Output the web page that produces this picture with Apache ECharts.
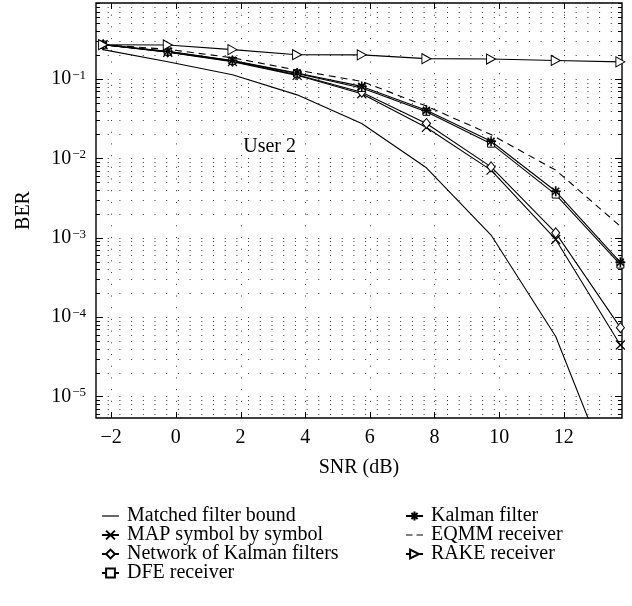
<!DOCTYPE html>
<html>
<head>
<meta charset="utf-8">
<script src="https://cdn.jsdelivr.net/npm/echarts@6/dist/echarts.min.js"></script>
<style>
  html, body { margin: 0; padding: 0; background: #fff; }
  #chart { width: 632px; height: 606px; }
</style>
</head>
<body>
<div id="chart"></div>
<script>
// SNR points (dB)
const snr = [-2.25, -0.25, 1.75, 3.75, 5.75, 7.75, 9.75, 11.75, 13.75];

// BER per receiver
const matchedBound = [0.234, 0.165, 0.113, 0.063, 0.0275, 0.0076, 0.00108, 0.000057, 0.0000005];
const mapSymbol = [0.27, 0.217, 0.165, 0.111, 0.065, 0.0245, 0.0071, 0.00095, 0.0000445];
const kalmanNetwork = [0.27, 0.219, 0.167, 0.113, 0.068, 0.0275, 0.0078, 0.00115, 0.0000735];
const dfe = [0.27, 0.221, 0.169, 0.117, 0.077, 0.0385, 0.0153, 0.00349, 0.000458];
const kalman = [0.27, 0.223, 0.171, 0.119, 0.0805, 0.0402, 0.0164, 0.00384, 0.00049];
const eqmm = [0.27, 0.236, 0.185, 0.129, 0.093, 0.0455, 0.0199, 0.0071, 0.00139];
const rake = [0.27, 0.268, 0.234, 0.202, 0.201, 0.18, 0.178, 0.171, 0.164];

// axis ticks
const xTicks = [-2, 0, 2, 4, 6, 8, 10, 12];
const yDecades = [1e-5, 1e-4, 1e-3, 1e-2, 1e-1];

const xMin = -2.47, xMax = 13.8;
const yMin = 5.35e-6, yMax = 0.905;

const font = '"Liberation Serif", "DejaVu Serif", serif';

// dotted grid rows at every decade and sub-decade value
const yGrid = [];
for (let e = -6; e <= -1; e++) {
  for (let k = 1; k <= 9; k++) {
    const v = k * Math.pow(10, e);
    if (v >= yMin && v <= yMax) yGrid.push(v);
  }
}

const pts = arr => arr.map((v, i) => [snr[i], v]);

const hollow = { color: '#fff', borderColor: '#000', borderWidth: 1 };
const stroked = { color: '#000', borderColor: '#000', borderWidth: 1.2 };

// plain line icons for the series that have no marker
const solidIcon = 'path://M0,0H17V1.2H0Z';
const dashIcon = 'path://M0,0H6.5V1.2H0ZM10.5,0H17V1.2H10.5Z';

const legendBase = {
  orient: 'vertical',
  top: 501,
  itemWidth: 17,
  itemHeight: 11,
  itemGap: -1,
  selectedMode: false,
  textStyle: { fontFamily: font, fontSize: 20, lineHeight: 18, color: '#000', padding: [0, 0, 0, 3] },
};

const chart = echarts.init(document.getElementById('chart'));

const option = {
  animation: false,
  backgroundColor: '#fff',
  grid: {
    left: 96,
    right: 10,
    top: 3,
    bottom: 188,
    show: true,
    borderColor: '#000',
    borderWidth: 1.4,
    backgroundColor: 'transparent',
  },
  xAxis: {
    type: 'value',
    min: xMin,
    max: xMax,
    name: 'SNR (dB)',
    nameLocation: 'middle',
    nameGap: 40,
    nameTextStyle: { fontFamily: font, fontSize: 20, color: '#000' },
    axisLine: { show: false },
    axisTick: { show: false },
    splitLine: { show: false },
    axisLabel: {
      customValues: xTicks,
      margin: 10,
      fontFamily: font,
      fontSize: 20,
      color: '#000',
      formatter: v => String(v).replace('-', '\u2212'),
    },
  },
  yAxis: {
    type: 'log',
    logBase: 10,
    min: yMin,
    max: yMax,
    name: 'BER',
    nameLocation: 'middle',
    nameGap: 62,
    nameTextStyle: { fontFamily: font, fontSize: 20, color: '#000' },
    axisLine: { show: false },
    axisTick: { show: false },
    splitLine: { show: false },
    minorSplitLine: { show: false },
    axisLabel: {
      customValues: yDecades,
      margin: 10,
      formatter: (v) => {
        const e = Math.log10(v);
        if (Math.abs(e - Math.round(e)) > 1e-6) return '';
        return `{a|10}{b|\u2212${Math.abs(Math.round(e))}}`;
      },
      rich: {
        a: { fontFamily: font, fontSize: 20, color: '#000', lineHeight: 20, verticalAlign: 'bottom' },
        b: { fontFamily: font, fontSize: 13, color: '#000', lineHeight: 13, padding: [0, 0, 10, 1], verticalAlign: 'top' },
      },
    },
  },
  legend: [
    Object.assign({}, legendBase, {
      left: 96,
      data: [
        { name: 'Matched filter bound', icon: solidIcon },
        'MAP symbol by symbol',
        'Network of Kalman filters',
        'DFE receiver',
      ],
    }),
    Object.assign({}, legendBase, {
      left: 400,
      data: [
        'Kalman filter',
        { name: 'EQMM receiver', icon: dashIcon },
        'RAKE receiver',
      ],
    }),
  ],
  series: [
    {
      // horizontal dotted grid + left/right ticks
      type: 'custom',
      silent: true,
      z: 1,
      data: yGrid.map(v => [xMin, v]),
      encode: { x: 0, y: 1 },
      renderItem(params, api) {
        const v = api.value(1);
        const cs = params.coordSys;
        const y = Math.round(api.coord([xMin, v])[1]) + 0.5;
        const e = Math.log10(v);
        const t = Math.abs(e - Math.round(e)) < 1e-6 ? 7 : 4;
        return {
          type: 'group',
          children: [
            { type: 'line', shape: { x1: cs.x, y1: y, x2: cs.x + cs.width, y2: y }, style: { stroke: '#333', lineWidth: 1, lineDash: [1, 10.7] } },
            { type: 'line', shape: { x1: cs.x, y1: y, x2: cs.x + t, y2: y }, style: { stroke: '#000', lineWidth: 1 } },
            { type: 'line', shape: { x1: cs.x + cs.width - t, y1: y, x2: cs.x + cs.width, y2: y }, style: { stroke: '#000', lineWidth: 1 } },
          ],
        };
      },
    },
    {
      // vertical dotted grid + top/bottom ticks
      type: 'custom',
      silent: true,
      z: 1,
      data: xTicks.map(x => [x, yMax]),
      encode: { x: 0, y: 1 },
      renderItem(params, api) {
        const cs = params.coordSys;
        const x = Math.round(api.coord([api.value(0), yMax])[0]) + 0.5;
        return {
          type: 'group',
          children: [
            { type: 'line', shape: { x1: x, y1: cs.y, x2: x, y2: cs.y + cs.height }, style: { stroke: '#333', lineWidth: 1, lineDash: [1, 10.7] } },
            { type: 'line', shape: { x1: x, y1: cs.y, x2: x, y2: cs.y + 6 }, style: { stroke: '#000', lineWidth: 1 } },
            { type: 'line', shape: { x1: x, y1: cs.y + cs.height - 6, x2: x, y2: cs.y + cs.height }, style: { stroke: '#000', lineWidth: 1 } },
          ],
        };
      },
    },
    {
      name: 'Matched filter bound',
      type: 'line',
      z: 3,
      data: pts(matchedBound),
      symbol: 'none',
      lineStyle: { color: '#000', width: 1.1 },
      itemStyle: { color: '#000' },
    },
    {
      name: 'MAP symbol by symbol',
      type: 'line',
      z: 3,
      data: pts(mapSymbol),
      symbol: 'path://M0,0L10,10M0,10L10,0',
      symbolSize: 9,
      lineStyle: { color: '#000', width: 1.1 },
      itemStyle: stroked,
    },
    {
      name: 'Network of Kalman filters',
      type: 'line',
      z: 3,
      data: pts(kalmanNetwork),
      symbol: 'diamond',
      symbolSize: [8, 10],
      lineStyle: { color: '#000', width: 1.1 },
      itemStyle: hollow,
    },
    {
      name: 'DFE receiver',
      type: 'line',
      z: 3,
      data: pts(dfe),
      symbol: 'rect',
      symbolSize: 7,
      lineStyle: { color: '#000', width: 1.1 },
      itemStyle: hollow,
    },
    {
      name: 'Kalman filter',
      type: 'line',
      z: 3,
      data: pts(kalman),
      symbol: 'path://M5,0L5,10M0,5L10,5M1.5,1.5L8.5,8.5M1.5,8.5L8.5,1.5',
      symbolSize: 10,
      lineStyle: { color: '#000', width: 1.1 },
      itemStyle: { color: '#000', borderColor: '#000', borderWidth: 1.6 },
    },
    {
      name: 'EQMM receiver',
      type: 'line',
      z: 3,
      data: pts(eqmm),
      symbol: 'none',
      lineStyle: { color: '#000', width: 1.1, type: [7, 5] },
      itemStyle: { color: '#000' },
    },
    {
      name: 'RAKE receiver',
      type: 'line',
      z: 3,
      data: pts(rake),
      symbol: 'triangle',
      symbolRotate: -90,
      symbolSize: [10, 9],
      lineStyle: { color: '#000', width: 1.1 },
      itemStyle: hollow,
    },
  ],
};

chart.setOption(option);

// "User 2" annotation placed in data coordinates
const userPos = chart.convertToPixel({ gridIndex: 0 }, [2.9, 0.0141]);
chart.setOption({
  graphic: [{
    type: 'text',
    x: userPos[0],
    y: userPos[1],
    silent: true,
    style: {
      text: 'User 2',
      fontFamily: font,
      fontSize: 20,
      fill: '#000',
      align: 'center',
      verticalAlign: 'middle',
    },
  }],
});
</script>
</body>
</html>
